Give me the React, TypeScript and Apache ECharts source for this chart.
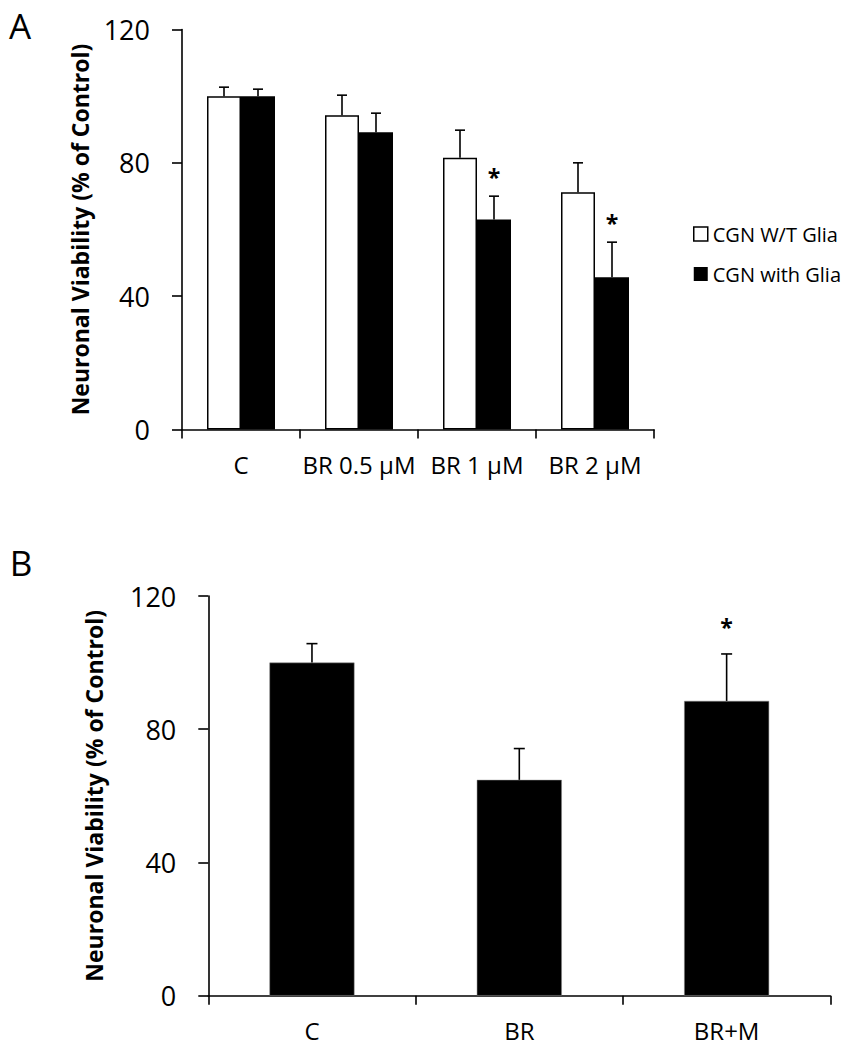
import React, { useEffect, useRef } from "react";
import * as echarts from "echarts";

const FONT = "'Open Sans', 'DejaVu Sans', sans-serif";

// Panel A
const categoriesA = ["C", "BR 0.5 μM", "BR 1 μM", "BR 2 μM"];
const withoutGlia = [100, 94.3, 81.5, 71.2];
const withoutGliaErr = [2.7, 6.0, 8.3, 8.8];
const withGlia = [100, 89.2, 63.0, 45.7];
const withGliaErr = [2.1, 5.7, 7.0, 10.5];
const sigWithout = ["", "", "", ""];
const sigWith = ["", "", "*", "*"];

// Panel B
const categoriesB = ["C", "BR", "BR+M"];
const valuesB = [100, 64.8, 88.5];
const errB = [5.7, 9.4, 14.1];
const sigB = ["", "", "*"];

const yTicks = [0, 40, 80, 120];
const yTitle = "Neuronal Viability (% of Control)";

function errData(vals: number[], errs: number[]) {
  return vals.map((v, i) => [i, v, v + errs[i]]);
}

function makeErrRender(sig: string[], offsetPx: number, capHalf: number, starGap: number) {
  return (params: any, api: any) => {
    const idx = api.value(0);
    const v = api.value(1);
    const hi = api.value(2);
    const s = sig[params.dataIndex] || "";
    const p1 = api.coord([idx, v]);
    const p2 = api.coord([idx, hi]);
    const x = p1[0] + offsetPx;
    const children: any[] = [
      {
        type: "line",
        shape: { x1: x, y1: p1[1], x2: x, y2: p2[1] },
        style: { stroke: "#000", lineWidth: 1.6 },
      },
      {
        type: "line",
        shape: { x1: x - capHalf, y1: p2[1], x2: x + capHalf, y2: p2[1] },
        style: { stroke: "#000", lineWidth: 1.6 },
      },
    ];
    if (s) {
      children.push({
        type: "text",
        x: x,
        y: p2[1] - starGap,
        style: {
          text: s,
          fontSize: 23,
          fontWeight: "bold",
          fontFamily: FONT,
          fill: "#000",
          align: "center",
          verticalAlign: "middle",
        },
      });
    }
    return { type: "group", children };
  };
}

const axisLineStyle = { color: "#000", width: 1.6 };

function yAxisCfg(gridIndex: number, nameGap: number) {
  return {
    gridIndex,
    type: "value",
    min: 0,
    max: 120,
    interval: 40,
    name: yTitle,
    nameLocation: "middle",
    nameRotate: 90,
    nameGap,
    nameTextStyle: { fontFamily: FONT, fontSize: 23, fontWeight: "bold", color: "#000" },
    axisLine: { show: true, lineStyle: axisLineStyle },
    axisTick: { show: true, inside: false, length: 10, lineStyle: axisLineStyle },
    axisLabel: {
      show: true,
      margin: 32,
      fontFamily: FONT,
      fontSize: 27,
      color: "#000",
      formatter: (v: number) => (yTicks.indexOf(v) >= 0 ? String(v) : ""),
    },
    splitLine: { show: false },
  };
}

function xAxisCfg(gridIndex: number, data: string[]) {
  return {
    gridIndex,
    type: "category",
    data,
    boundaryGap: true,
    axisLine: { show: true, lineStyle: axisLineStyle },
    axisTick: { show: true, inside: false, length: 9, alignWithLabel: false, lineStyle: axisLineStyle },
    axisLabel: { show: true, interval: 0, margin: 23, fontFamily: FONT, fontSize: 24, color: "#000" },
    splitLine: { show: false },
  };
}

export default function App() {
  const ref = useRef<HTMLDivElement>(null);

  useEffect(() => {
    if (!ref.current) return;
    const chart = echarts.init(ref.current, undefined, { renderer: "svg" });
    const barWA = 34;
    const option: any = {
      animation: false,
      backgroundColor: "#fff",
      textStyle: { fontFamily: FONT },
      graphic: [
        {
          type: "text",
          x: 20,
          y: 25,
          style: {
            text: "A",
            fontSize: 35,
            fontFamily: FONT,
            fill: "#000",
            align: "center",
            verticalAlign: "middle",
          },
        },
        {
          type: "text",
          x: 21,
          y: 562,
          style: {
            text: "B",
            fontSize: 35,
            fontFamily: FONT,
            fill: "#000",
            align: "center",
            verticalAlign: "middle",
          },
        },
      ],
      legend: {
        show: true,
        orient: "vertical",
        left: 688,
        top: 219,
        itemWidth: 14,
        itemHeight: 14,
        itemGap: 20,
        selectedMode: false,
        textStyle: { fontFamily: FONT, fontSize: 20, color: "#000", lineHeight: 20 },
        data: [
          {
            name: "CGN W/T Glia",
            icon: "rect",
            itemStyle: { color: "#fff", borderColor: "#000", borderWidth: 1.5 },
          },
          { name: "CGN with Glia", icon: "rect", itemStyle: { color: "#000", borderWidth: 0 } },
        ],
      },
      grid: [
        { left: 182, top: 29.5, width: 472, height: 400, containLabel: false },
        { left: 208.3, top: 596, width: 622, height: 399.7, containLabel: false },
      ],
      xAxis: [xAxisCfg(0, categoriesA), xAxisCfg(1, categoriesB)],
      yAxis: [yAxisCfg(0, 91), yAxisCfg(1, 103)],
      series: [
        {
          name: "CGN W/T Glia",
          type: "bar",
          xAxisIndex: 0,
          yAxisIndex: 0,
          data: withoutGlia,
          barWidth: barWA,
          barGap: "0%",
          itemStyle: { color: "#fff", borderColor: "#000", borderWidth: 1.5 },
        },
        {
          name: "CGN with Glia",
          type: "bar",
          xAxisIndex: 0,
          yAxisIndex: 0,
          data: withGlia,
          barWidth: barWA,
          barGap: "0%",
          itemStyle: { color: "#000" },
        },
        {
          name: "errA1",
          type: "custom",
          xAxisIndex: 0,
          yAxisIndex: 0,
          z: 5,
          encode: { x: 0, y: [1, 2] },
          data: errData(withoutGlia, withoutGliaErr),
          renderItem: makeErrRender(sigWithout, -barWA / 2, 5, 19),
        },
        {
          name: "errA2",
          type: "custom",
          xAxisIndex: 0,
          yAxisIndex: 0,
          z: 5,
          encode: { x: 0, y: [1, 2] },
          data: errData(withGlia, withGliaErr),
          renderItem: makeErrRender(sigWith, barWA / 2, 5, 19),
        },
        {
          name: "Neuronal Viability",
          type: "bar",
          xAxisIndex: 1,
          yAxisIndex: 1,
          data: valuesB,
          barWidth: 85,
          itemStyle: { color: "#000", borderColor: "#888", borderWidth: 0.5 },
        },
        {
          name: "errB",
          type: "custom",
          xAxisIndex: 1,
          yAxisIndex: 1,
          z: 5,
          encode: { x: 0, y: [1, 2] },
          data: errData(valuesB, errB),
          renderItem: makeErrRender(sigB, 0, 5.5, 27),
        },
      ],
    };
    chart.setOption(option);
    return () => {
      chart.dispose();
    };
  }, []);

  return (
    <div
      ref={ref}
      style={{ position: "absolute", left: 0, top: 0, width: 849, height: 1050, background: "#fff" }}
    />
  );
}
